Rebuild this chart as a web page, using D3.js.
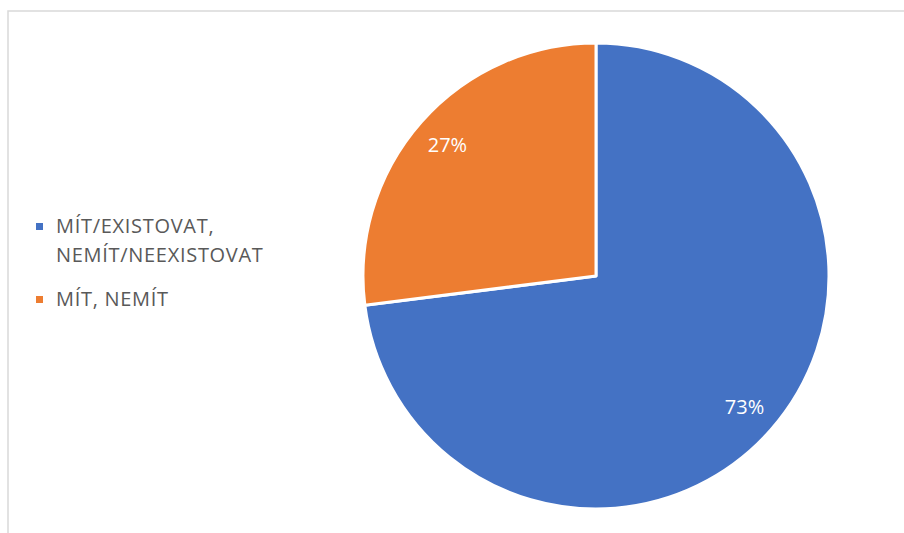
<!DOCTYPE html>
<html>
<head>
	<meta charset="utf-8">
	<title> pie chart </title>
	<script src="https://d3js.org/d3.v7.min.js"></script>
	<style>
		body { margin: 0; background: #fff; }
		svg text { font-family: "Open Sans", "Liberation Sans", sans-serif; }
	</style>
</head>
<body>
	<svg width="904" height="533"></svg>
	<script type="text/javascript">
		let categories = [["MÍT/EXISTOVAT,", "NEMÍT/NEEXISTOVAT"], ["MÍT, NEMÍT"]];
		let values = [73, 27];
		let colorSet = ["#4472c4", "#ed7d31"];

		let svg = d3.select("svg");

		// chart area border
		svg.append("rect")
			.attr("x", 8).attr("y", 11)
			.attr("width", 904).attr("height", 540)
			.attr("fill", "none")
			.attr("stroke", "#d9d9d9")
			.attr("stroke-width", 1.5);

		let radius = 233;
		let g = svg.append("g").attr("transform", "translate(596,276)");
		let pie = d3.pie().sort(null);
		let arc = d3.arc().innerRadius(0).outerRadius(radius);
		let labelArc = d3.arc().innerRadius(radius * 0.85).outerRadius(radius * 0.85);
		let total = d3.sum(values);

		let arcs = g.selectAll("g.slice").data(pie(values)).enter().append("g").attr("class", "slice");
		arcs.append("path")
			.attr("fill", function(d, i) { return colorSet[i]; })
			.style("stroke", "white")
			.style("stroke-width", 3)
			.style("stroke-linejoin", "round")
			.attr("d", arc);
		arcs.append("text")
			.attr("transform", function(d) { return "translate(" + labelArc.centroid(d) + ")"; })
			.attr("text-anchor", "middle")
			.attr("dy", "0.35em")
			.attr("fill", "white")
			.style("font-size", "20px")
			.text(function(d) { return Math.round(100 * d.data / total) + "%"; });

		// legend
		let legend = svg.append("g");
		let rowY = [233, 306];
		categories.forEach(function(lines, i) {
			legend.append("rect")
				.attr("x", 36).attr("y", rowY[i] - 10)
				.attr("width", 7).attr("height", 7)
				.attr("fill", colorSet[i]);
			let t = legend.append("text")
				.attr("x", 56).attr("y", rowY[i])
				.attr("fill", "#595959")
				.style("font-size", "20px")
				.style("letter-spacing", "0.7px");
			lines.forEach(function(line, j) {
				t.append("tspan").attr("x", 56).attr("dy", j == 0 ? 0 : 29).text(line);
			});
		});
	</script>
</body>
</html>
